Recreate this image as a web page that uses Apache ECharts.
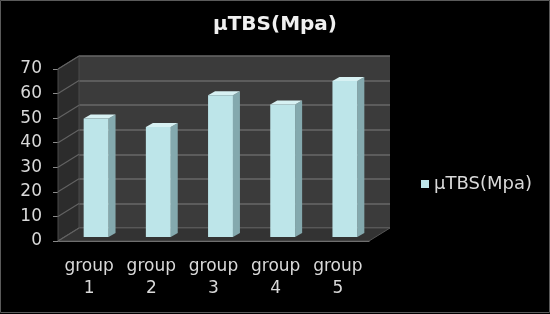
<!DOCTYPE html>
<html>
<head>
<meta charset="utf-8">
<script src="https://cdn.jsdelivr.net/npm/echarts@6/dist/echarts.min.js"></script>
<style>
  html, body { margin: 0; padding: 0; background: #000; }
  #chart { width: 550px; height: 314px; }
</style>
</head>
<body>
<div id="chart"></div>
<script>
// data
const categories = ['group\n1', 'group\n2', 'group\n3', 'group\n4', 'group\n5'];
const values = [48.2, 44.8, 57.7, 53.9, 63.5];
const seriesName = 'µTBS(Mpa)';
const yMin = 0, yMax = 70, yStep = 10;

// fake 3D: the back wall is grid 0, the front plane grid 1
const DEPTH_X = -21, DEPTH_Y = 13;   // back wall -> front plane
const BAR_DX = 7, BAR_DY = -4;       // front plane -> bar front face
const CAP_X = 7, CAP_Y = 4;          // bar depth

const textColor = '#d9d9d9';
const edgeColor = '#8a8a8a';
const font = 'DejaVu Sans';

const chart = echarts.init(document.getElementById('chart'));

// left wall + floor, drawn from the back grid
function renderWalls(params, api) {
  const cs = params.coordSys;
  const l = cs.x, r = cs.x + cs.width, t = cs.y, b = cs.y + cs.height;
  const kids = [];
  kids.push({
    type: 'polygon',
    shape: { points: [[l, t], [l, b], [l + DEPTH_X, b + DEPTH_Y], [l + DEPTH_X, t + DEPTH_Y]] },
    style: { fill: '#2c2c2c', stroke: '#4a4a4a', lineWidth: 1 }
  });
  kids.push({
    type: 'polygon',
    shape: { points: [[l, b], [r, b], [r + DEPTH_X, b + DEPTH_Y], [l + DEPTH_X, b + DEPTH_Y]] },
    style: { fill: '#333333', stroke: '#555555', lineWidth: 1 }
  });
  for (let v = yMin; v <= yMax; v += yStep) {
    const y = api.coord([0, v])[1];
    kids.push({
      type: 'line',
      shape: { x1: l, y1: y, x2: l + DEPTH_X, y2: y + DEPTH_Y },
      style: { stroke: '#626262', lineWidth: 1.2 }
    });
  }
  return { type: 'group', children: kids };
}

// one 3D bar: front face, side, top cap
function renderBar(params, api) {
  const idx = api.value(0);
  const base = api.coord([idx, 0]);
  const top = api.coord([idx, api.value(1)]);
  const w = api.size([1, 0])[0] * 0.4;
  const x0 = base[0] + BAR_DX - w / 2, x1 = x0 + w;
  const yb = base[1] + BAR_DY, yt = top[1] + BAR_DY;
  return {
    type: 'group',
    children: [
      {
        type: 'polygon',
        shape: { points: [[x1, yb], [x1 + CAP_X, yb - CAP_Y], [x1 + CAP_X, yt - CAP_Y], [x1, yt]] },
        style: { fill: '#84a9ae' }
      },
      {
        type: 'polygon',
        shape: { points: [[x0, yt], [x1, yt], [x1 + CAP_X, yt - CAP_Y], [x0 + CAP_X, yt - CAP_Y]] },
        style: { fill: '#d7f1f3' }
      },
      {
        type: 'rect',
        shape: { x: x0, y: yt, width: w, height: yb - yt },
        style: { fill: '#bde5e9' }
      }
    ]
  };
}

chart.setOption({
  backgroundColor: '#000',
  animation: false,
  title: {
    text: seriesName,
    left: 'center',
    top: 10,
    textStyle: { color: '#f0f0f0', fontFamily: font, fontSize: 20, fontWeight: 'bold' }
  },
  legend: {
    data: [seriesName],
    left: 416,
    top: 170,
    itemWidth: 8,
    itemHeight: 8,
    icon: 'rect',
    textStyle: { color: textColor, fontFamily: font, fontSize: 18 }
  },
  graphic: [{
    type: 'rect',
    shape: { x: 0.5, y: 0.5, width: 549, height: 312 },
    style: { fill: null, stroke: '#5a5a5a', lineWidth: 1 },
    silent: true
  }],
  grid: [
    { left: 79, top: 56, width: 311, height: 172, show: true, backgroundColor: '#3b3b3b', borderWidth: 0 },
    { left: 58, top: 69, width: 311, height: 172 }
  ],
  xAxis: [
    { gridIndex: 0, type: 'category', data: categories, show: false },
    {
      gridIndex: 1, type: 'category', data: categories,
      axisLine: { lineStyle: { color: edgeColor } },
      axisTick: { length: 6, lineStyle: { color: edgeColor } },
      axisLabel: { interval: 0, hideOverlap: false, color: textColor, fontFamily: font, fontSize: 17, lineHeight: 22, margin: 15 },
      splitLine: { show: false }
    }
  ],
  yAxis: [
    {
      gridIndex: 0, type: 'value', min: yMin, max: yMax, interval: yStep,
      axisLabel: { show: false }, axisLine: { show: false }, axisTick: { show: false },
      splitLine: { lineStyle: { color: '#686868', width: 1.5 } }
    },
    {
      gridIndex: 1, type: 'value', min: yMin, max: yMax, interval: yStep,
      axisLine: { show: true, lineStyle: { color: edgeColor } },
      axisTick: { show: true, length: 5, lineStyle: { color: edgeColor } },
      axisLabel: { color: textColor, fontFamily: font, fontSize: 17, margin: 16 },
      splitLine: { show: false }
    }
  ],
  series: [
    {
      type: 'custom',
      name: 'walls',
      xAxisIndex: 0,
      yAxisIndex: 0,
      renderItem: renderWalls,
      data: [[0, 0]],
      silent: true,
      z: 1
    },
    {
      type: 'custom',
      name: seriesName,
      xAxisIndex: 1,
      yAxisIndex: 1,
      renderItem: renderBar,
      itemStyle: { color: '#bde5e9' },
      encode: { x: 0, y: 1 },
      data: values.map((v, i) => [i, v]),
      z: 3
    }
  ]
});
</script>
</body>
</html>
